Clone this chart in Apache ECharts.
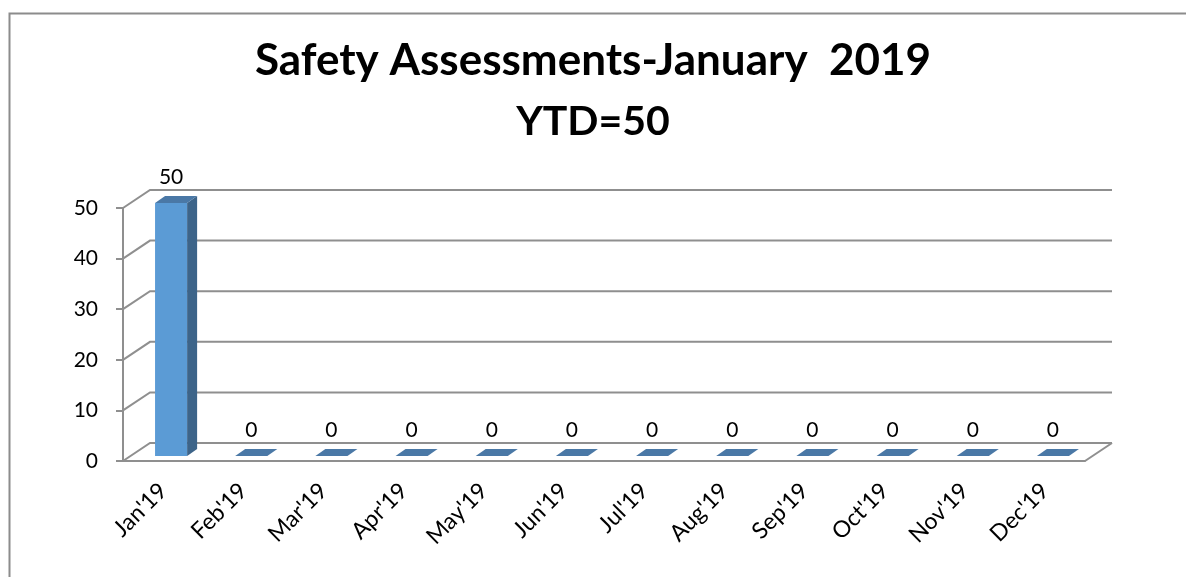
<!DOCTYPE html>
<html>
<head>
<meta charset="utf-8">
<script src="https://cdn.jsdelivr.net/npm/echarts@6/dist/echarts.min.js"></script>
<style>
  html, body { margin: 0; padding: 0; background: #fff; }
  #chart { width: 1186px; height: 577px; }
</style>
</head>
<body>
<div id="chart"></div>
<script>
const months = ["Jan'19", "Feb'19", "Mar'19", "Apr'19", "May'19", "Jun'19",
  "Jul'19", "Aug'19", "Sep'19", "Oct'19", "Nov'19", "Dec'19"]
const assessments = [50, 0, 0, 0, 0, 0, 0, 0, 0, 0, 0, 0]
const yTicks = [0, 10, 20, 30, 40, 50]

const FONT = 'Lato, "Open Sans", sans-serif'
const GRID_COLOR = '#8f8f8f'
// depth of the back wall and of the bars (perspective offset)
const WALL = [27, -18]
const BAR_FRONT = [8, -5]
const BAR_BACK = [18, -12]

const chart = echarts.init(document.getElementById('chart'))

function renderWall(params, api) {
  const v = api.value(0)
  const half = api.size([1, 0])[0] / 2
  const left = api.coord([0, v])
  const right = api.coord([months.length - 1, v])
  const x0 = left[0] - half
  const x1 = right[0] + half
  const y = left[1]
  const style = { stroke: GRID_COLOR, lineWidth: 2, fill: null }
  const children = [
    { type: 'polyline', shape: { points: [[x0, y], [x0 + WALL[0], y + WALL[1]], [x1 + WALL[0], y + WALL[1]]] }, style }
  ]
  if (v === 0) {
    children.push({ type: 'line', shape: { x1: x1, y1: y, x2: x1 + WALL[0], y2: y + WALL[1] }, style })
  }
  return { type: 'group', children }
}

function renderBar(params, api) {
  const idx = api.value(0)
  const val = api.value(1)
  const top = api.coord([idx, val])
  const base = api.coord([idx, 0])
  const w = api.size([1, 0])[0] * 0.4
  const fx = top[0] - w / 2 + BAR_FRONT[0]
  const ft = top[1] + BAR_FRONT[1]
  const fb = base[1] + BAR_FRONT[1]
  const dx = BAR_BACK[0] - BAR_FRONT[0]
  const dy = BAR_BACK[1] - BAR_FRONT[1]
  const children = []
  if (fb - ft > 1) {
    children.push({ type: 'rect', shape: { x: fx, y: ft, width: w, height: fb - ft }, style: { fill: '#5b9bd5' } })
    children.push({ type: 'polygon', shape: { points: [[fx + w, ft], [fx + w + dx, ft + dy], [fx + w + dx, fb + dy], [fx + w, fb]] }, style: { fill: '#3d6489' } })
  }
  children.push({ type: 'polygon', shape: { points: [[fx, ft], [fx + dx, ft + dy], [fx + w + dx, ft + dy], [fx + w, ft]] }, style: { fill: '#4a78a6' } })
  children.push({
    type: 'text',
    style: {
      text: String(val), x: fx + w / 2, y: ft + dy - 8,
      align: 'center', verticalAlign: 'bottom',
      font: '21px ' + FONT, fill: '#000'
    }
  })
  return { type: 'group', children }
}

chart.setOption({
  animation: false,
  backgroundColor: '#fff',
  graphic: [{
    type: 'rect', left: 7, top: 11,
    shape: { width: 1200, height: 600 },
    style: { fill: null, stroke: '#8c8c8c', lineWidth: 2 },
    z: -10
  }],
  title: {
    text: '{a|Safety Assessments-January  2019}\n{b|YTD=50}',
    left: 'center',
    top: 25,
    textStyle: {
      fontFamily: FONT,
      fontWeight: 'bold',
      color: '#000',
      rich: {
        a: { fontFamily: FONT, fontSize: 44, fontWeight: 'bold', color: '#000', lineHeight: 61, align: 'center' },
        b: { fontFamily: FONT, fontSize: 41, fontWeight: 'bold', color: '#000', lineHeight: 61, align: 'center' }
      }
    }
  },
  grid: { left: 123, right: 101, top: 208, bottom: 116 },
  xAxis: {
    type: 'category',
    data: months,
    axisLine: { lineStyle: { color: GRID_COLOR, width: 2 } },
    axisTick: { length: 9, lineStyle: { color: GRID_COLOR, width: 2 } },
    axisLabel: { rotate: 45, margin: 26, padding: [26, 0, 0, 0], color: '#000', fontFamily: FONT, fontSize: 23 }
  },
  yAxis: {
    type: 'value',
    min: 0,
    max: 50,
    interval: 10,
    axisLine: { show: true, lineStyle: { color: GRID_COLOR, width: 2 } },
    axisTick: { show: true, length: 7, lineStyle: { color: GRID_COLOR, width: 2 } },
    splitLine: { show: false },
    axisLabel: { margin: 25, color: '#000', fontFamily: FONT, fontSize: 21 }
  },
  series: [
    {
      type: 'custom',
      renderItem: renderWall,
      data: yTicks.map(v => [v]),
      encode: { y: 0 },
      silent: true,
      z: 1
    },
    {
      type: 'custom',
      renderItem: renderBar,
      data: assessments.map((v, i) => [i, v]),
      encode: { x: 0, y: 1 },
      z: 3
    }
  ]
})
</script>
</body>
</html>
